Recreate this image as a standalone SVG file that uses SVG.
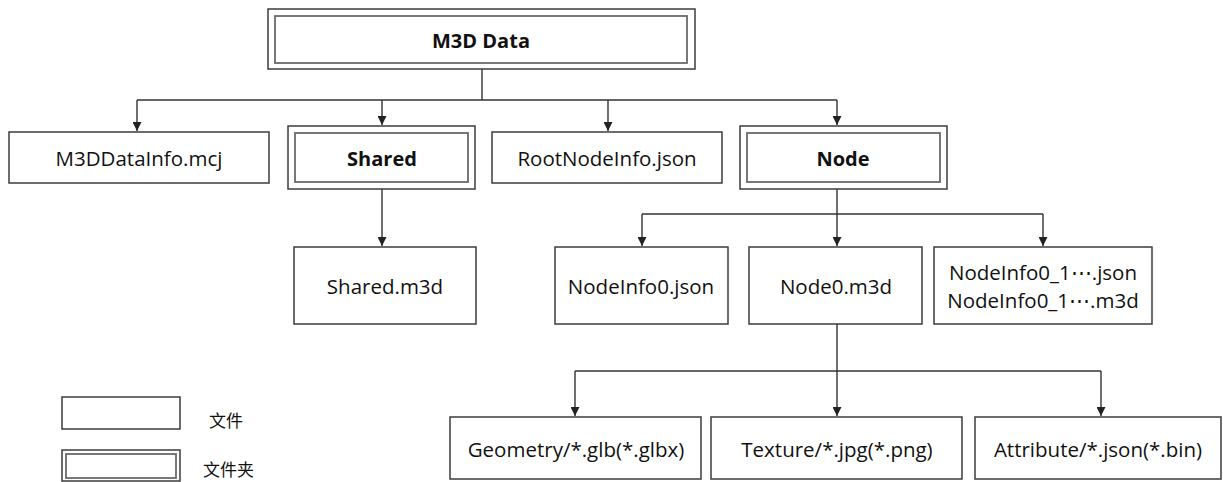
<svg xmlns="http://www.w3.org/2000/svg" width="1223" height="482" viewBox="0 0 1223 482">
  <style>
    .file { fill: #ffffff; stroke: #3c3c3c; stroke-width: 1.5; }
    .outer { fill: #ffffff; stroke: #3c3c3c; stroke-width: 1.5; }
    .inner { fill: none; stroke: #6a6a6a; stroke-width: 1.8; }
    .label { font-family: "Open Sans", "Liberation Sans", sans-serif; font-size: 20.5px; fill: #111; text-anchor: middle; dominant-baseline: central; }
    .bold { font-weight: bold; font-size: 20px; }
    .cjk { font-family: "Noto Sans CJK SC", "Noto Sans", sans-serif; font-size: 17px; fill: #111; dominant-baseline: central; }
    .wire { fill: none; stroke: #333; stroke-width: 1.4; }
  </style>
  <defs>
    <marker id="arrow" viewBox="0 0 10 10" refX="10" refY="5" markerWidth="9" markerHeight="9" markerUnits="userSpaceOnUse" orient="auto">
      <path d="M0,0 L10,5 L0,10 Z" fill="#222"/>
    </marker>
  </defs>
  <rect width="1223" height="482" fill="#ffffff"/>

  <!-- connectors -->
  <g id="connectors">
    <path class="wire" d="M482,69 V100"/>
    <path class="wire" d="M137,100 H837"/>
    <path class="wire" d="M137,100 V131" marker-end="url(#arrow)"/>
    <path class="wire" d="M382,100 V125" marker-end="url(#arrow)"/>
    <path class="wire" d="M608,100 V131" marker-end="url(#arrow)"/>
    <path class="wire" d="M837,100 V125" marker-end="url(#arrow)"/>

    <path class="wire" d="M382,189 V246" marker-end="url(#arrow)"/>

    <path class="wire" d="M837,189 V246" marker-end="url(#arrow)"/>
    <path class="wire" d="M642,214 H1043"/>
    <path class="wire" d="M642,214 V246" marker-end="url(#arrow)"/>
    <path class="wire" d="M1043,214 V246" marker-end="url(#arrow)"/>

    <path class="wire" d="M837,324 V416" marker-end="url(#arrow)"/>
    <path class="wire" d="M575,371 H1101"/>
    <path class="wire" d="M575,371 V416" marker-end="url(#arrow)"/>
    <path class="wire" d="M1101,371 V416" marker-end="url(#arrow)"/>
  </g>

  <!-- root folder -->
  <g id="m3d-data">
    <rect class="outer" x="268" y="9" width="427" height="60"/>
    <rect class="inner" x="275" y="16" width="412" height="47"/>
    <text class="label bold" x="481" y="40">M3D Data</text>
  </g>

  <!-- first level -->
  <g id="m3d-data-info">
    <rect class="file" x="9" y="132" width="260" height="51"/>
    <text class="label" x="139" y="158">M3DDataInfo.mcj</text>
  </g>
  <g id="shared">
    <rect class="outer" x="288" y="126" width="187" height="63"/>
    <rect class="inner" x="295" y="133" width="173" height="49"/>
    <text class="label bold" x="382" y="158">Shared</text>
  </g>
  <g id="root-node-info">
    <rect class="file" x="492" y="132" width="230" height="51"/>
    <text class="label" x="607" y="158">RootNodeInfo.json</text>
  </g>
  <g id="node">
    <rect class="outer" x="740" y="126" width="207" height="63"/>
    <rect class="inner" x="747" y="133" width="193" height="49"/>
    <text class="label bold" x="843" y="158">Node</text>
  </g>

  <!-- second level -->
  <g id="shared-m3d">
    <rect class="file" x="294" y="247" width="182" height="77"/>
    <text class="label" x="385" y="286">Shared.m3d</text>
  </g>
  <g id="node-info0">
    <rect class="file" x="555" y="247" width="173" height="77"/>
    <text class="label" x="641" y="286">NodeInfo0.json</text>
  </g>
  <g id="node0">
    <rect class="file" x="749" y="247" width="173" height="77"/>
    <text class="label" x="836" y="286">Node0.m3d</text>
  </g>
  <g id="node-info0-children">
    <rect class="file" x="934" y="247" width="218" height="77"/>
    <text class="label" x="1043" y="272">NodeInfo0_1⋯.json</text>
    <text class="label" x="1043" y="300">NodeInfo0_1⋯.m3d</text>
  </g>

  <!-- third level -->
  <g id="geometry">
    <rect class="file" x="450" y="417" width="251" height="62"/>
    <text class="label" x="576" y="449">Geometry/*.glb(*.glbx)</text>
  </g>
  <g id="texture">
    <rect class="file" x="711" y="417" width="251" height="62"/>
    <text class="label" x="837" y="449">Texture/*.jpg(*.png)</text>
  </g>
  <g id="attribute">
    <rect class="file" x="975" y="417" width="246" height="62"/>
    <text class="label" x="1098" y="449">Attribute/*.json(*.bin)</text>
  </g>

  <!-- legend -->
  <g id="legend-file">
    <rect class="file" x="62" y="397" width="118" height="32"/>
    <text class="cjk" x="209" y="419">文件</text>
  </g>
  <g id="legend-folder">
    <rect class="outer" x="62" y="450" width="118" height="31"/>
    <rect class="inner" x="66" y="454" width="110" height="24"/>
    <text class="cjk" x="203" y="468">文件夹</text>
  </g>
</svg>
